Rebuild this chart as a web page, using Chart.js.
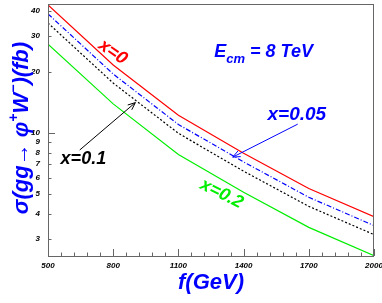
<!DOCTYPE html>
<html>
<head>
<meta charset="utf-8">
<script src="https://cdn.jsdelivr.net/npm/chart.js@4.4.1/dist/chart.umd.min.js"></script>
<style>
  html, body { margin: 0; padding: 0; background: #fff; }
  #wrap { width: 382px; height: 303px; }
</style>
</head>
<body>
<div id="wrap"><canvas id="sigma"></canvas></div>
<script>
// f (GeV) sample points
var fValues = [500, 800, 1100, 1400, 1700, 2000];
// sigma(gg -> phi+ W-) in fb for each x
var sigmaX0   = [42.7, 21.6, 12.2, 7.94, 5.32, 3.86];
var sigmaX005 = [38.6, 19.5, 11.0, 7.19, 4.81, 3.49];
var sigmaX01  = [34.8, 17.6, 9.95, 6.47, 4.34, 3.15];
var sigmaX02  = [27.4, 13.9, 7.83, 5.10, 3.42, 2.48];

var xTicks = [500, 800, 1100, 1400, 1700, 2000];
var yTicks = [3, 4, 5, 6, 7, 8, 9, 10, 20, 30, 40];

var FONT = '"Liberation Sans", Arial, sans-serif';

function points(ys) {
    var out = [];
    for (var i in fValues) {
        out.push({x: fValues[i], y: ys[i]});
    }
    return out;
}

function arrow(ctx, x1, y1, x2, y2, color) {
    var a = Math.atan2(y2 - y1, x2 - x1);
    var h = 8;
    ctx.save();
    ctx.strokeStyle = color;
    ctx.lineWidth = 1;
    ctx.beginPath();
    ctx.moveTo(x1, y1);
    ctx.lineTo(x2, y2);
    ctx.moveTo(x2 - h * Math.cos(a - 0.4), y2 - h * Math.sin(a - 0.4));
    ctx.lineTo(x2, y2);
    ctx.lineTo(x2 - h * Math.cos(a + 0.4), y2 - h * Math.sin(a + 0.4));
    ctx.stroke();
    ctx.restore();
}

function rotText(ctx, text, x, y, deg, color, size) {
    ctx.save();
    ctx.translate(x, y);
    ctx.rotate(deg * Math.PI / 180);
    ctx.fillStyle = color;
    ctx.font = 'bold italic ' + size + 'px ' + FONT;
    ctx.textAlign = 'center';
    ctx.textBaseline = 'middle';
    ctx.fillText(text, 0, 0);
    ctx.restore();
}

// y title with real superscripts, drawn rotated
function yTitle(ctx, cx, cy) {
    var parts = [['σ(gg→ φ', 0], ['+', 1], ['W', 0], ['−', 1], [')(fb)', 0]];
    var big = 'bold italic 22px ' + FONT, small = 'bold italic 14px ' + FONT;
    ctx.save();
    var total = 0;
    parts.forEach(function(p) {
        ctx.font = p[1] ? small : big;
        total += ctx.measureText(p[0]).width;
    });
    ctx.translate(cx, cy);
    ctx.rotate(-Math.PI / 2);
    ctx.fillStyle = '#0000ff';
    ctx.textBaseline = 'alphabetic';
    ctx.textAlign = 'left';
    var x = -total / 2;
    parts.forEach(function(p) {
        ctx.font = p[1] ? small : big;
        ctx.fillText(p[0], x, p[1] ? -2 : 8);
        x += ctx.measureText(p[0]).width;
    });
    ctx.restore();
}

var rootDecor = {
    id: 'rootDecor',
    afterDatasetsDraw: function(chart) {
        var ctx = chart.ctx;
        var xs = chart.scales.x, ys = chart.scales.y;
        var a = chart.chartArea;

        // frame and inward ticks
        ctx.save();
        ctx.strokeStyle = '#666';
        ctx.lineWidth = 1;
        ctx.strokeRect(a.left + 0.5, a.top + 0.5, a.right - a.left - 1, a.bottom - a.top);
        ctx.beginPath();
        for (var v = 500; v <= 2000; v += 60) {
            var px = Math.round(xs.getPixelForValue(v)) + 0.5;
            var len = (v - 500) % 300 === 0 ? 7 : 3.5;
            ctx.moveTo(px, a.bottom);
            ctx.lineTo(px, a.bottom - len);
        }
        yTicks.forEach(function(t) {
            var py = Math.round(ys.getPixelForValue(t)) + 0.5;
            var len = t === 10 ? 7 : 3.5;
            ctx.moveTo(a.left, py);
            ctx.lineTo(a.left + len, py);
        });
        ctx.stroke();
        ctx.restore();

        yTitle(ctx, 20, (a.top + a.bottom) / 2 - 2);

        // labels
        rotText(ctx, 'x=0', xs.getPixelForValue(798), ys.getPixelForValue(25), 35, '#ff0000', 18);
        rotText(ctx, 'x=0.2', xs.getPixelForValue(1299), ys.getPixelForValue(5.0), 27, '#00ee00', 18);

        ctx.save();
        ctx.textBaseline = 'alphabetic';
        ctx.textAlign = 'left';
        ctx.fillStyle = '#000';
        ctx.font = 'bold italic 18px ' + FONT;
        ctx.fillText('x=0.1', xs.getPixelForValue(558), ys.getPixelForValue(7.0));

        ctx.fillStyle = '#0000ff';
        ctx.font = 'bold italic 19px ' + FONT;
        ctx.fillText('x=0.05', xs.getPixelForValue(1510), ys.getPixelForValue(11.55));

        var ex = xs.getPixelForValue(1265), ey = ys.getPixelForValue(23.6);
        ctx.font = 'bold italic 18px ' + FONT;
        ctx.fillText('E', ex, ey);
        var w = ctx.measureText('E').width;
        ctx.font = 'bold italic 13px ' + FONT;
        ctx.fillText('cm', ex + w, ey + 6);
        w += ctx.measureText('cm').width;
        ctx.font = 'bold italic 18px ' + FONT;
        ctx.fillText(' = 8 TeV', ex + w, ey);
        ctx.restore();

        arrow(ctx, xs.getPixelForValue(646), ys.getPixelForValue(8.23),
              xs.getPixelForValue(902), ys.getPixelForValue(14.1), '#000');
        arrow(ctx, xs.getPixelForValue(1649), ys.getPixelForValue(11.04),
              xs.getPixelForValue(1350), ys.getPixelForValue(7.59), '#0000ff');
    }
};

var ctx = document.getElementById('sigma');

var chart = new Chart(ctx, {
    type: 'line',
    data: {
        datasets: [{
            label: 'x=0.2',
            data: points(sigmaX02),
            borderColor: '#00ee00',
            borderWidth: 1.2
        }, {
            label: 'x=0.1',
            data: points(sigmaX01),
            borderColor: '#000000',
            borderDash: [2, 2],
            borderWidth: 1.2
        }, {
            label: 'x=0.05',
            data: points(sigmaX005),
            borderColor: '#0000ff',
            borderDash: [5, 2, 1, 2],
            borderWidth: 1.2
        }, {
            label: 'x=0',
            data: points(sigmaX0),
            borderColor: '#ff0000',
            borderWidth: 1.2
        }]
    },
    options: {
        responsive: true,
        maintainAspectRatio: false,
        animation: false,
        layout: { padding: { top: 4, right: 8, left: 0, bottom: 0 } },
        elements: { point: { radius: 0 }, line: { tension: 0 } },
        plugins: { legend: { display: false }, tooltip: { enabled: false } },
        scales: {
            x: {
                type: 'linear',
                min: 500,
                max: 2000,
                afterBuildTicks: function(scale) {
                    scale.ticks = xTicks.map(function(v) { return {value: v}; });
                },
                afterFit: function(scale) {
                    scale.height = 47;
                    scale.paddingLeft = 0;
                    scale.paddingRight = 0;
                },
                grid: { display: false, drawTicks: false },
                border: { display: false },
                ticks: {
                    autoSkip: false,
                    maxRotation: 0,
                    padding: 5,
                    color: '#000',
                    font: { family: FONT, size: 8, style: 'italic', weight: 'bold' },
                    callback: function(v) { return String(v); }
                },
                title: {
                    display: true,
                    text: 'f(GeV)',
                    color: '#0000ff',
                    padding: { top: 0, bottom: 7 },
                    font: { family: FONT, size: 22, style: 'italic', weight: 'bold' }
                }
            },
            y: {
                type: 'logarithmic',
                min: 2.47,
                max: 43.2,
                afterBuildTicks: function(scale) {
                    scale.ticks = yTicks.map(function(v) { return {value: v}; });
                },
                afterFit: function(scale) {
                    scale.width = 48;
                    scale.paddingTop = 0;
                    scale.paddingBottom = 0;
                },
                grid: { display: false, drawTicks: false },
                border: { display: false },
                ticks: {
                    autoSkip: false,
                    padding: 8,
                    color: '#000',
                    font: { family: FONT, size: 8, style: 'italic', weight: 'bold' },
                    callback: function(v) { return String(v); }
                },
                title: { display: false }
            }
        }
    },
    plugins: [rootDecor]
});
</script>
</body>
</html>
